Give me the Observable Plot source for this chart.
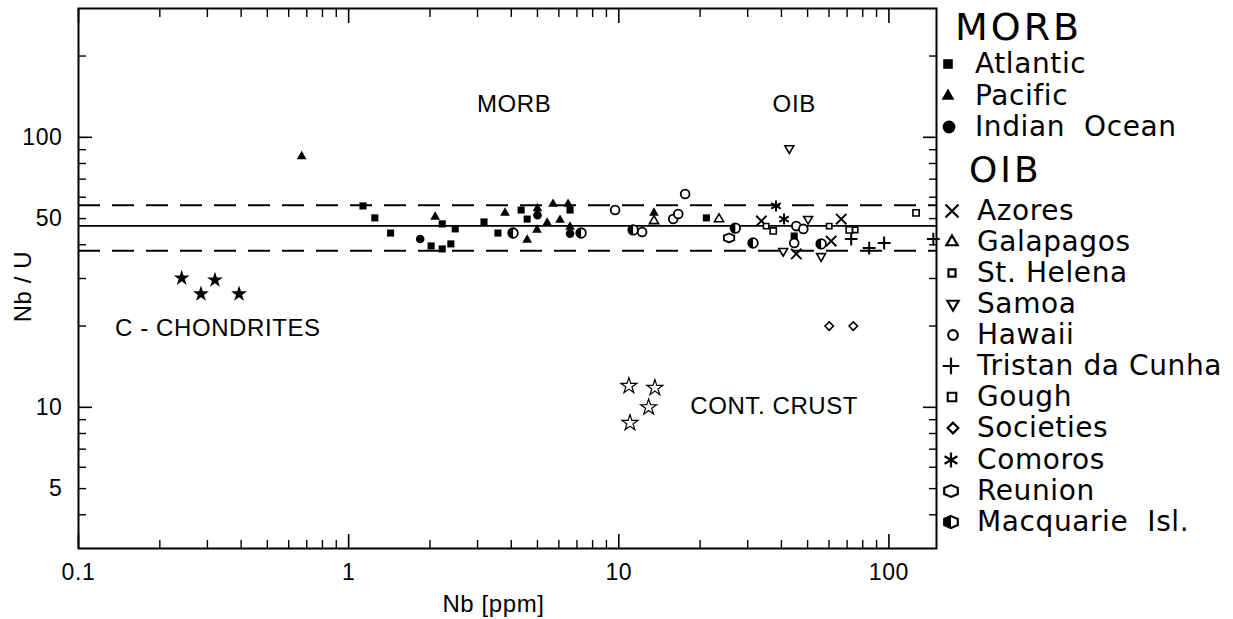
<!DOCTYPE html>
<html>
<head>
<meta charset="utf-8">
<script src="https://cdn.jsdelivr.net/npm/d3@7"></script>
<script src="https://cdn.jsdelivr.net/npm/@observablehq/plot@0.6"></script>
<style>
  html, body { margin: 0; padding: 0; background: #fff; }
  #wrap { position: relative; width: 1233px; height: 619px; overflow: hidden; background:#fff; }
  #wrap > svg { position: absolute; left: 0; top: 0; }
  #wrap > svg text { letter-spacing: 0.6px; }
  .lg { position: absolute; font-family: "DejaVu Sans", sans-serif; color: #000; white-space: pre; line-height: 1; letter-spacing: 0.6px; }
</style>
</head>
<body>
<div id="wrap"></div>
<script>
// ---------------- data (Nb [ppm], Nb/U) ----------------
const atlantic  = [[1.13,55.7],[1.25,50.3],[1.43,44.2],[2.02,39.6],[2.22,38.6],[2.39,40.3],[2.22,47.8],[2.48,45.8],[3.17,48.6],[3.57,44.2],[4.35,53.8],[4.58,49.8],[6.60,53.8],[21.1,50.3],[44.6,43.1]];
const pacific   = [[0.67,85],[2.09,50.7],[3.79,52.5],[4.58,41.7],[4.98,45.4],[5.0,54.5],[5.43,48.2],[5.71,56.6],[6.06,49.4],[6.49,56.6],[6.6,46.6],[13.5,52.5]];
const indian    = [[1.84,42.0],[5.0,51.5],[6.6,44.0]];
const azores    = [[33.7,49.0],[45.4,37.0],[61.1,41.3],[66.6,49.8]];
const galapagos = [[13.5,49.0],[23.5,49.8]];
const stHelena  = [[35.1,46.9],[60.1,46.9],[75.0,45.4]];
const samoa     = [[42.8,91],[40.6,37.9],[50.2,49.8],[56.1,36.3]];
const hawaii    = [[9.69,53.8],[12.2,44.6],[15.9,49.8],[16.6,52.0],[17.6,61.7],[44.6,40.6],[45.4,46.9],[48.2,45.8]];
const tristan   = [[72.5,42.0],[84.5,38.9],[96.0,40.6],[146,42.0]];
const gough     = [[37.3,45.0],[71.3,45.4],[126,52.5]];
const societies = [[60.1,20.0],[73.8,20.0]];
const comoros   = [[38.2,55.7],[40.9,49.8]];
const reunion   = [[25.6,42.4]];
const macquarie = [[4.06,44.2],[7.25,44.2],[11.3,45.4],[27.0,46.1],[31.4,40.6],[56.1,40.3]];
const chondrites = [[0.241,30.1],[0.284,26.3],[0.320,29.6],[0.393,26.3]];
const contCrust  = [[10.9,12.0],[13.6,11.8],[12.9,10.0],[11.0,8.75]];

const refMean = 47, refUpper = 56, refLower = 38;

const xMajorTicks = [0.1, 1, 10, 100];
const xMinorTicks = [0.2,0.3,0.4,0.5,0.6,0.7,0.8,0.9,2,3,4,5,6,7,8,9,20,30,40,50,60,70,80,90];
const xTickLabels = [0.1, 0.5, 1, 5, 10, 50, 100];
const yMajorTicks = [10, 100];
const yMinorTicks = [4,5,6,7,8,9,20,30,40,50,60,70,80,90,200];
const yTickLabels = [5, 10, 50, 100];

const annotations = [
  {x: 4.10, y: 132, label: "MORB"},
  {x: 44.6, y: 132, label: "OIB"},
  {x: 0.328, y: 19.7, label: "C - CHONDRITES"},
  {x: 37.6, y: 10.1, label: "CONT. CRUST"}
];

// ---------------- symbols ----------------
const halfLeft = {draw(ctx, size) {
  const r = Math.sqrt(size / Math.PI);
  ctx.moveTo(0, -r); ctx.arc(0, 0, r, -Math.PI/2, Math.PI/2, true); ctx.closePath();
}};
const hexagon = {draw(ctx, size) {
  const rx = Math.sqrt(size / Math.PI), ry = rx * 0.8660254, hy = ry / 2;
  ctx.moveTo(0, ry); ctx.lineTo(rx, hy); ctx.lineTo(rx, -hy);
  ctx.lineTo(0, -ry); ctx.lineTo(-rx, -hy); ctx.lineTo(-rx, hy); ctx.closePath();
}};

const X = d => d[0], Y = d => d[1];
const sw = 1.6;
const dotMarks = [
  Plot.dot(atlantic,  {x: X, y: Y, symbol: "square",   r: 4.0, fill: "black"}),
  Plot.dot(pacific,   {x: X, y: Y, symbol: "triangle", r: 3.6, fill: "black"}),
  Plot.dot(indian,    {x: X, y: Y, symbol: "circle",   r: 4.3, fill: "black"}),
  Plot.dot(azores,    {x: X, y: Y, symbol: "times",    r: 4.8, stroke: "black", strokeWidth: 1.9}),
  Plot.dot(galapagos, {x: X, y: Y, symbol: "triangle", r: 3.4, fill: "white", stroke: "black", strokeWidth: sw}),
  Plot.dot(stHelena,  {x: X, y: Y, symbol: "square",   r: 3.0, fill: "white", stroke: "black", strokeWidth: sw}),
  Plot.dot(samoa,     {x: X, y: Y, symbol: "triangle", r: 3.3, rotate: 180, fill: "white", stroke: "black", strokeWidth: sw}),
  Plot.dot(hawaii,    {x: X, y: Y, symbol: "circle",   r: 4.4, fill: "white", stroke: "black", strokeWidth: 1.8}),
  Plot.dot(tristan,   {x: X, y: Y, symbol: "plus",     r: 4.2, stroke: "black", strokeWidth: 2}),
  Plot.dot(gough,     {x: X, y: Y, symbol: "square",   r: 3.5, fill: "white", stroke: "black", strokeWidth: sw}),
  Plot.dot(societies, {x: X, y: Y, symbol: "diamond2", r: 3.8, fill: "white", stroke: "black", strokeWidth: sw}),
  Plot.dot(comoros,   {x: X, y: Y, symbol: "asterisk", r: 5.2, stroke: "black", strokeWidth: 2}),
  Plot.dot(reunion,   {x: X, y: Y, symbol: hexagon,    r: 5.2, fill: "white", stroke: "black", strokeWidth: 1.8}),
  Plot.dot(macquarie, {x: X, y: Y, symbol: "circle",   r: 4.8, fill: "white", stroke: "black", strokeWidth: 1.8}),
  Plot.dot(macquarie, {x: X, y: Y, symbol: halfLeft,   r: 4.8, fill: "black"}),
  Plot.dot(chondrites,{x: X, y: Y, symbol: "star",     r: 5.0, fill: "black"}),
  Plot.dot(contCrust, {x: X, y: Y, symbol: "star",     r: 5.0, fill: "white", stroke: "black", strokeWidth: 1.2})
];

const tickFont = "'Liberation Sans', Arial, sans-serif";
const none = () => "";

const plot = Plot.plot({
  width: 1233, height: 619,
  marginLeft: 78, marginRight: 297, marginTop: 8, marginBottom: 71,
  style: {fontFamily: tickFont, fontSize: "22px", color: "black", background: "white"},
  x: {type: "log", domain: [0.1, 150]},
  y: {type: "log", domain: [3, 300]},
  marks: [
    Plot.ruleY([refUpper, refLower], {strokeDasharray: "22,12", strokeWidth: 1.9}),
    Plot.ruleY([refMean], {strokeWidth: 1.9}),
    // inward ticks on all four sides
    Plot.axisX({anchor: "bottom", ticks: xMajorTicks, tickSize: -14, tickFormat: none, label: null, strokeWidth: 1.6}),
    Plot.axisX({anchor: "bottom", ticks: xMinorTicks, tickSize: -8, tickFormat: none, label: null, strokeWidth: 1.4}),
    Plot.axisX({anchor: "top", ticks: xMajorTicks, tickSize: -14, tickFormat: none, label: null, strokeWidth: 1.6}),
    Plot.axisX({anchor: "top", ticks: xMinorTicks, tickSize: -8, tickFormat: none, label: null, strokeWidth: 1.4}),
    Plot.axisY({anchor: "left", ticks: yMajorTicks, tickSize: -14, tickFormat: none, label: null, strokeWidth: 1.6}),
    Plot.axisY({anchor: "left", ticks: yMinorTicks, tickSize: -8, tickFormat: none, label: null, strokeWidth: 1.4}),
    Plot.axisY({anchor: "right", ticks: yMajorTicks, tickSize: -14, tickFormat: none, label: null, strokeWidth: 1.6}),
    Plot.axisY({anchor: "right", ticks: yMinorTicks, tickSize: -8, tickFormat: none, label: null, strokeWidth: 1.4}),
    // tick labels
    Plot.axisX({anchor: "bottom", ticks: xTickLabels, tickSize: 0, tickPadding: 15, tickFormat: d => String(d), label: null, fontSize: 23}),
    Plot.axisY({anchor: "left", ticks: yTickLabels, tickSize: 0, tickPadding: 16, tickFormat: d => String(d), label: null, fontSize: 23}),
    Plot.frame({strokeWidth: 2}),
    // axis titles
    Plot.text(["Nb [ppm]"], {frameAnchor: "bottom", dx: -14, dy: 56, lineAnchor: "middle", fontSize: 24}),
    Plot.text(["Nb / U"], {frameAnchor: "left", dx: -55, dy: 8, rotate: -90, textAnchor: "middle", lineAnchor: "middle", fontSize: 24}),
    // annotations
    Plot.text(annotations, {x: "x", y: "y", text: "label", fontSize: 24, lineAnchor: "middle", fill: "black"}),
    ...dotMarks
  ]
});
const wrap = document.getElementById("wrap");
wrap.appendChild(plot);

// ---------------- legend (HTML, right side) ----------------
const legendHeaders = [
  {text: "MORB", left: 955, cy: 27, size: 38, ls: 3},
  {text: "OIB",  left: 969, cy: 170, size: 36, ls: 3}
];
const legendItems = [
  {label: "Atlantic",        type: d3.symbolSquare,   r: 5.4, fill: "black"},
  {label: "Pacific",         type: d3.symbolTriangle, r: 4.8, fill: "black"},
  {label: "Indian  Ocean",   type: d3.symbolCircle,   r: 6.4, fill: "black"},
  {label: "Azores",          type: d3.symbolTimes,    r: 6.0, stroke: true},
  {label: "Galapagos",       type: d3.symbolTriangle, r: 4.2, stroke: true},
  {label: "St. Helena",      type: d3.symbolSquare,   r: 4.0, stroke: true},
  {label: "Samoa",           type: d3.symbolTriangle, r: 4.2, stroke: true, rotate: 180},
  {label: "Hawaii",          type: d3.symbolCircle,   r: 4.8, stroke: true},
  {label: "Tristan da Cunha",type: d3.symbolPlus,     r: 5.4, stroke: true},
  {label: "Gough",           type: d3.symbolSquare,   r: 4.8, stroke: true},
  {label: "Societies",       type: d3.symbolDiamond2, r: 4.8, stroke: true},
  {label: "Comoros",         type: d3.symbolAsterisk, r: 7.0, stroke: true},
  {label: "Reunion",         type: hexagon,           r: 6.8, stroke: true},
  {label: "Macquarie  Isl.", type: "half",            r: 6.8}
];
const itemCy = [64, 96, 127, 211, 242, 273, 304, 335, 366, 397, 428, 460, 491, 522];
const itemMarkX = [948, 948, 949, 952, 952, 952, 953, 953, 951, 952, 953, 951, 951, 951];

function addText(text, left, cy, size, ls) {
  const d = document.createElement("div");
  d.className = "lg";
  d.textContent = text;
  d.style.left = left + "px";
  d.style.fontSize = size + "px";
  d.style.top = (cy - size / 2) + "px";
  d.style.height = size + "px";
  d.style.lineHeight = size + "px";
  if (ls != null) d.style.letterSpacing = ls + "px";
  wrap.appendChild(d);
}
legendHeaders.forEach(h => addText(h.text, h.left, h.cy, h.size, h.ls));

const NS = "http://www.w3.org/2000/svg";
legendItems.forEach((it, i) => {
  const cy = itemCy[i], cx = itemMarkX[i];
  const svg = document.createElementNS(NS, "svg");
  svg.setAttribute("width", 30); svg.setAttribute("height", 30);
  svg.style.position = "absolute";
  svg.style.left = (cx - 15) + "px"; svg.style.top = (cy - 15) + "px";
  svg.style.overflow = "visible";
  const size = Math.PI * it.r * it.r;
  const g = document.createElementNS(NS, "g");
  g.setAttribute("transform", `translate(15,15)` + (it.rotate ? ` rotate(${it.rotate})` : ""));
  if (it.type === "half") {
    const c = document.createElementNS(NS, "path");
    c.setAttribute("d", d3.symbol(hexagon, size)());
    c.setAttribute("fill", "white"); c.setAttribute("stroke", "black"); c.setAttribute("stroke-width", 2.2);
    const h = document.createElementNS(NS, "path");
    h.setAttribute("d", d3.symbol(halfLeft, size * 0.95)());
    h.setAttribute("fill", "black");
    g.appendChild(c); g.appendChild(h);
  } else {
    const p = document.createElementNS(NS, "path");
    p.setAttribute("d", d3.symbol(it.type, size)());
    if (it.stroke) { p.setAttribute("fill", "white"); p.setAttribute("stroke", "black"); p.setAttribute("stroke-width", 2.2); }
    else { p.setAttribute("fill", it.fill); }
    g.appendChild(p);
  }
  svg.appendChild(g);
  wrap.appendChild(svg);
  addText(it.label, i < 3 ? 975 : 977, cy, 28);
});
</script>
</body>
</html>
